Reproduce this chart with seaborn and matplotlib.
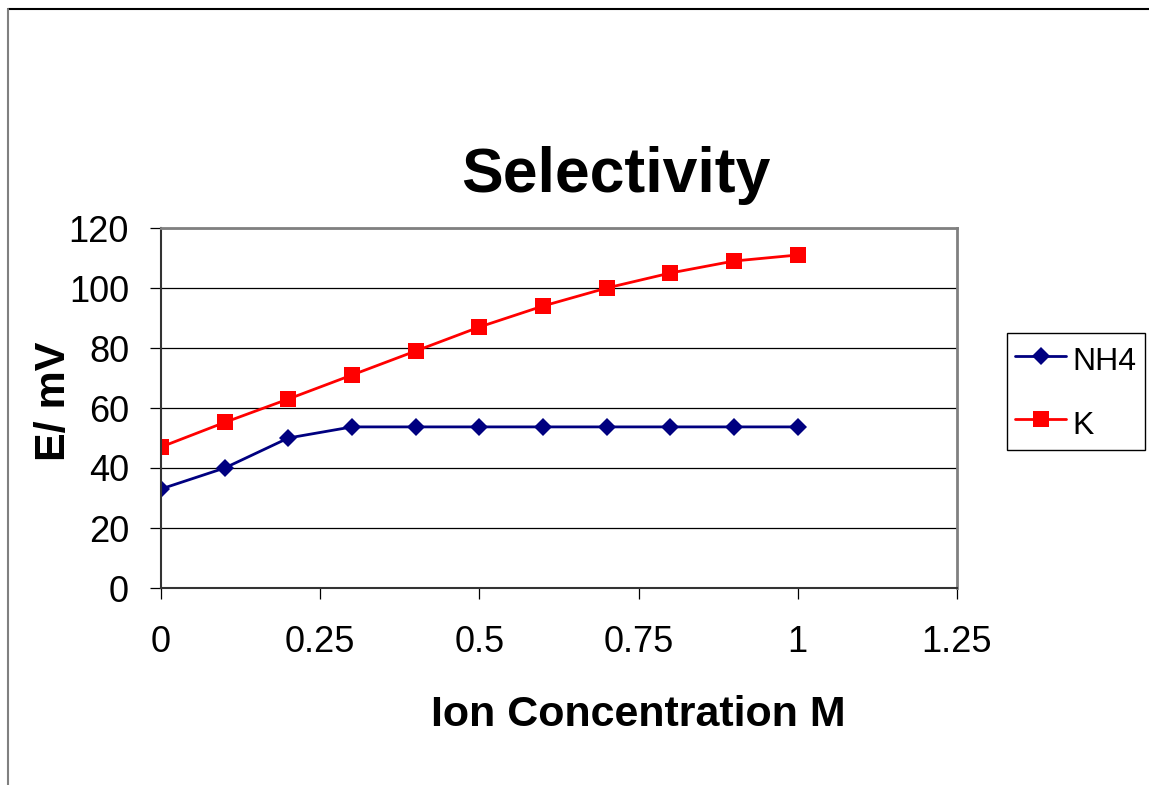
import pandas as pd
import numpy as np
import seaborn as sns
import matplotlib.pyplot as plt
from matplotlib.lines import Line2D

# data
conc = [0, 0.1, 0.2, 0.3, 0.4, 0.5, 0.6, 0.7, 0.8, 0.9, 1.0]
nh4 = [33, 40, 50, 53.7, 53.7, 53.7, 53.7, 53.7, 53.7, 53.7, 53.7]
k = [47, 55.2, 63, 71, 79, 87, 94, 100, 105, 109, 111]

xticks = [0, 0.25, 0.5, 0.75, 1, 1.25]
xticklabels = ["0", "0.25", "0.5", "0.75", "1", "1.25"]
yticks = [0, 20, 40, 60, 80, 100, 120]

sns.set_style("white")
plt.rcParams["font.family"] = ["Liberation Sans", "DejaVu Sans"]
plt.rcParams["text.color"] = "black"
plt.rcParams["axes.labelcolor"] = "black"
plt.rcParams["xtick.color"] = "black"
plt.rcParams["ytick.color"] = "black"

W, H = 1149, 785
fig = plt.figure(figsize=(W / 100, H / 100), dpi=100)

# axes box in pixels: left 161, right 957, top 228, bottom 588
ax = fig.add_axes([161 / W, 1 - 588 / H, (957 - 161) / W, (588 - 228) / H])

df_nh4 = pd.DataFrame({"x": conc, "y": nh4})
df_k = pd.DataFrame({"x": conc, "y": k})

sns.lineplot(data=df_nh4, x="x", y="y", ax=ax, color="#000080", marker="D",
             markersize=9.5, markeredgewidth=0, linewidth=2, label="NH4")
sns.lineplot(data=df_k, x="x", y="y", ax=ax, color="#FF0000", marker="s",
             markersize=11, markeredgewidth=0, linewidth=2, label="K")

ax.set_xlim(0, 1.25)
ax.set_ylim(0, 120)
ax.set_xticks(xticks)
ax.set_xticklabels(xticklabels)
ax.set_yticks(yticks)

ax.grid(axis="y", color="black", linewidth=0.9)
ax.grid(axis="x", visible=False)
ax.set_axisbelow(True)

ax.tick_params(axis="both", which="major", labelsize=26, direction="out",
               length=8, width=0.9, color="black", left=True, bottom=True)
ax.tick_params(axis="x", pad=19)
ax.tick_params(axis="y", pad=15)

for side in ["left", "bottom"]:
    ax.spines[side].set_color("#333333")
    ax.spines[side].set_linewidth(1.5)
for side in ["top", "right"]:
    ax.spines[side].set_color("#808080")
    ax.spines[side].set_linewidth(2)

ax.set_title("Selectivity", fontsize=45, fontweight="bold",
             x=(616 - 161) / 796, y=(588 - 200) / 360, va="baseline")

ax.set_xlabel("Ion Concentration M", fontsize=31, fontweight="bold", va="baseline")
ax.xaxis.set_label_coords((638 - 161) / 796, -(726 - 588) / 360)
ax.set_ylabel("E/ mV", fontsize=31, fontweight="bold", va="baseline")
ax.yaxis.set_label_coords((65 - 161) / 796, (588 - 401) / 360)

leg = ax.legend(loc="center left", bbox_to_anchor=(1007 / W, 1 - 391.5 / H),
                bbox_transform=fig.transFigure, borderaxespad=0, fontsize=23,
                frameon=True, fancybox=False, framealpha=1, handlelength=1.6,
                handletextpad=0.2, labelspacing=0.8, borderpad=0.25,
                handleheight=1.45)
leg.get_frame().set_edgecolor("black")
leg.get_frame().set_linewidth(1)

# outer chart border (partially visible)
fig.add_artist(Line2D([8 / W, 1], [1 - 9 / H, 1 - 9 / H], color="black",
                      linewidth=1.5, transform=fig.transFigure))
fig.add_artist(Line2D([8 / W, 8 / W], [0, 1 - 9 / H], color="#808080",
                      linewidth=1.5, transform=fig.transFigure))

fig.savefig("out.png", dpi=100, facecolor="white")
